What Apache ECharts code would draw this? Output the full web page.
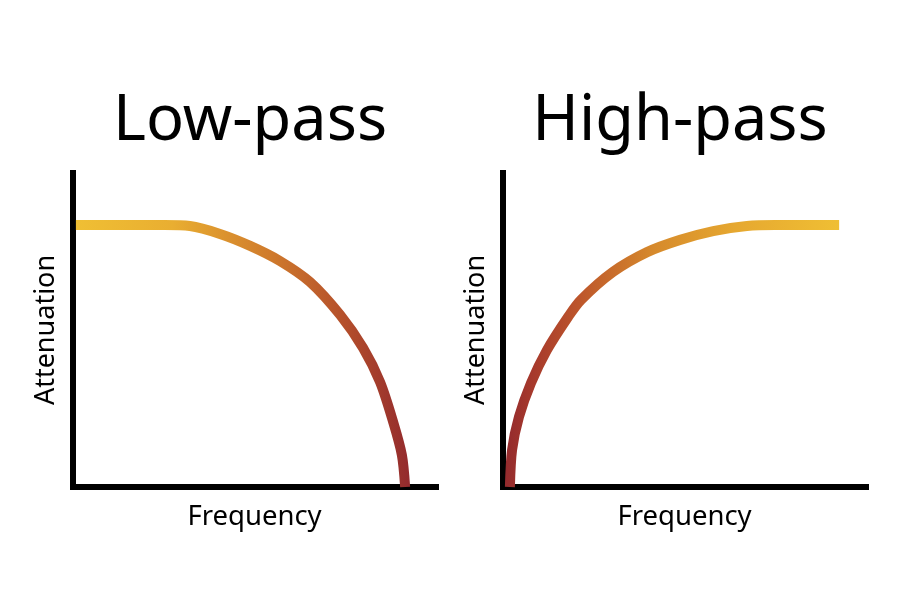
<!DOCTYPE html>
<html>
<head>
<meta charset="utf-8">
<script src="https://cdn.jsdelivr.net/npm/echarts@6/dist/echarts.min.js"></script>
<style>html,body{margin:0;padding:0;background:#fff}#c{width:900px;height:600px}</style>
</head>
<body>
<div id="c"></div>
<script>
const titles = ['Low-pass', 'High-pass'];
const xName = 'Frequency';
const yName = 'Attenuation';
// Low-pass response: [frequency, attenuation]
const lowFreq = [0.8, 8.8, 17.1, 25.3, 32.2, 40.5, 48.8, 57.0, 65.3, 73.6, 79.9, 84.6, 88.2, 90.6, 91.5];
const lowAtt  = [83.4, 83.4, 83.4, 83.4, 83.1, 80.6, 76.8, 72.0, 65.3, 54.8, 44.3, 33.4, 20.7, 10.2, 0];
// High-pass response
const highFreq = [1.9, 2.5, 4.4, 7.7, 12.1, 17.9, 21.5, 30.3, 39.7, 48.8, 57.9, 67.2, 74.9, 83.2, 92.6];
const highAtt  = [0, 11.8, 22.3, 33.1, 43.6, 54.1, 59.6, 68.5, 74.8, 78.7, 81.5, 83.1, 83.4, 83.4, 83.4];

const FONT = '"Noto Sans", "Open Sans", sans-serif';
const lowData = lowFreq.map((f, i) => [f, lowAtt[i]]);
const highData = highFreq.map((f, i) => [f, highAtt[i]]);

function grad(stops) {
  return new echarts.graphic.LinearGradient(0, 0, 1, 0, stops.map(s => ({offset: s[0], color: s[1]})));
}
const axisLine = {show: true, lineStyle: {color: '#000', width: 6, cap: 'square'}};
function xAx(idx) {
  return {type: 'value', gridIndex: idx, min: 0, max: 100, axisLine: axisLine, axisTick: {show: false},
    axisLabel: {show: false}, splitLine: {show: false}, name: xName, nameLocation: 'middle', nameGap: 16,
    nameTextStyle: {fontFamily: FONT, fontSize: 27.5, color: '#000'}};
}
function yAx(idx) {
  return {type: 'value', gridIndex: idx, min: 0, max: 100, axisLine: axisLine, axisTick: {show: false},
    axisLabel: {show: false}, splitLine: {show: false}, name: yName, nameLocation: 'middle', nameGap: 13,
    nameTextStyle: {fontFamily: FONT, fontSize: 27, color: '#000'}};
}
const chart = echarts.init(document.getElementById('c'), null, {renderer: 'canvas'});
chart.setOption({
  backgroundColor: '#fff',
  animation: false,
  title: [
    {text: titles[0], left: 245, top: 86, textAlign: 'center', textStyle: {fontFamily: FONT, fontSize: 63, fontWeight: 'normal', color: '#000'}},
    {text: titles[1], left: 675, top: 86, textAlign: 'center', textStyle: {fontFamily: FONT, fontSize: 63, fontWeight: 'normal', color: '#000'}}
  ],
  grid: [
    {left: 73, top: 173, width: 363, height: 314},
    {left: 503, top: 173, width: 363, height: 314}
  ],
  xAxis: [xAx(0), xAx(1)],
  yAxis: [yAx(0), yAx(1)],
  series: [
    {type: 'line', xAxisIndex: 0, yAxisIndex: 0, data: lowData, smooth: 0.3, showSymbol: false,
      lineStyle: {width: 10, color: grad([[0, '#F0C034'], [0.3, '#E9AE31'], [0.59, '#CF7A2C'], [0.8, '#B5502B'], [1, '#932A2D']])}},
    {type: 'line', xAxisIndex: 1, yAxisIndex: 1, data: highData, smooth: 0.3, showSymbol: false,
      lineStyle: {width: 10, color: grad([[0, '#932A2D'], [0.085, '#A73A2C'], [0.22, '#BD562B'], [0.44, '#D68A2C'], [0.68, '#E6A830'], [1, '#F0C034']])}}
  ]
});
</script>
</body>
</html>
